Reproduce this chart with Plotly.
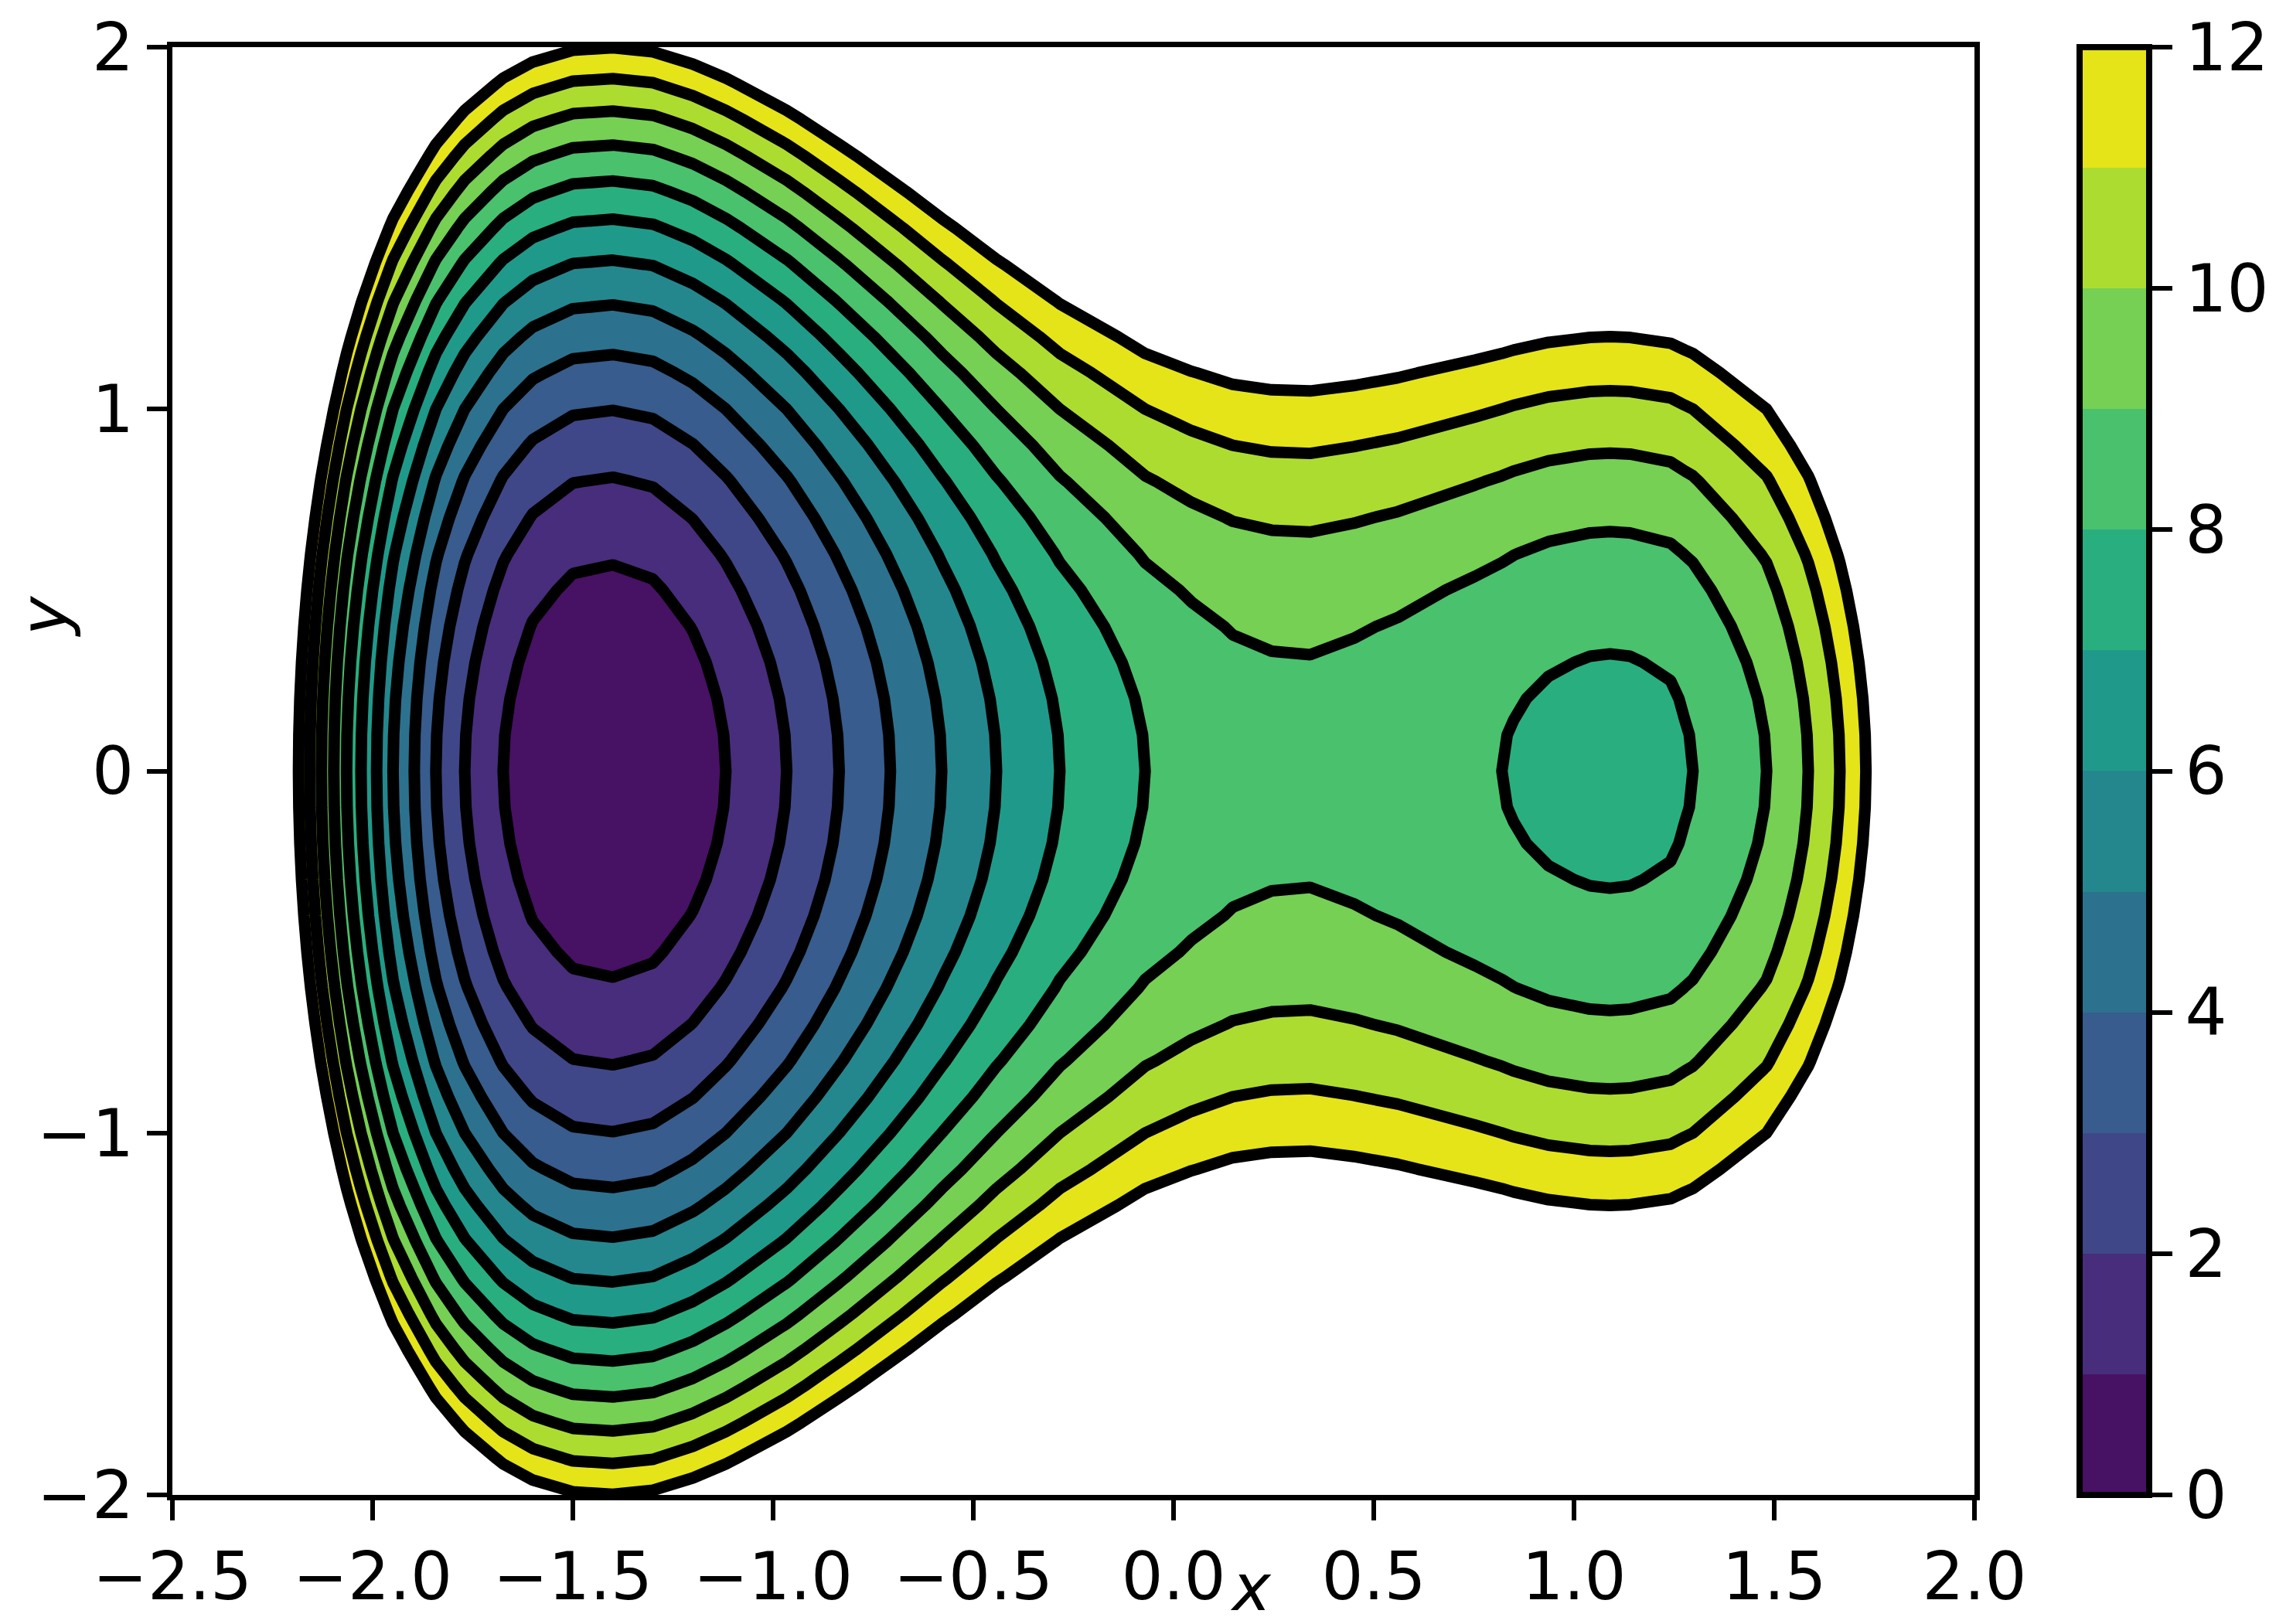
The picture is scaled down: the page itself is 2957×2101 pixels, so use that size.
import plotly.graph_objects as go

# Potential profile along y = 0 (x position -> value)
x_nodes = [-2.5, -2.185, -2.157, -2.128, -2.097, -2.065, -2.029, -1.990, -1.949, -1.896,
           -1.842, -1.770, -1.674, -1.6, -1.5, -1.4, -1.3, -1.2, -1.118, -0.966,
           -0.835, -0.707, -0.579, -0.442, -0.284, -0.071, 0.045, 0.148, 0.245, 0.341,
           0.45, 0.56, 0.753, 0.82, 0.849, 0.936, 1.04, 1.09, 1.14, 1.241,
           1.277, 1.297, 1.481, 1.585, 1.664, 1.729, 1.85, 2.0]
f_profile = [26.0, 12.0, 11.0, 10.0, 9.0, 8.0, 7.0, 6.0, 5.0, 4.0,
             3.0, 2.0, 1.0, 0.48, 0.10, 0.02, 0.15, 0.55, 1.0, 2.0,
             3.0, 4.0, 5.0, 6.0, 7.0, 8.0, 8.34, 8.57, 8.665, 8.685,
             8.59, 8.455, 8.125, 8.0, 7.934, 7.788, 7.694, 7.68, 7.694, 7.805,
             7.934, 8.0, 9.0, 10.0, 11.0, 12.0, 14.2, 18.0]

# Rise of the potential across y (read along the x = -1.4 column)
y_nodes = [-2.0, -1.9, -1.8, -1.7, -1.6, -1.5, -1.4, -1.3, -1.2, -1.1, -1.0,
           -0.9, -0.8, -0.7, -0.6, -0.5, -0.4, -0.3, -0.2, -0.1, 0.0,
           0.1, 0.2, 0.3, 0.4, 0.5, 0.6, 0.7, 0.8, 0.9, 1.0,
           1.1, 1.2, 1.3, 1.4, 1.5, 1.6, 1.7, 1.8, 1.9, 2.0]
g_profile = [12.0, 10.83, 9.72, 8.67, 7.68, 6.75, 5.88, 5.07, 4.32, 3.63, 3.0,
             2.43, 1.92, 1.47, 1.08, 0.75, 0.48, 0.27, 0.12, 0.03, 0.0,
             0.03, 0.12, 0.27, 0.48, 0.75, 1.08, 1.47, 1.92, 2.43, 3.0,
             3.63, 4.32, 5.07, 5.88, 6.75, 7.68, 8.67, 9.72, 10.83, 12.0]

x_ticks = [-2.5, -2.0, -1.5, -1.0, -0.5, 0.0, 0.5, 1.0, 1.5, 2.0]
x_ticktext = ["\u22122.5", "\u22122.0", "\u22121.5", "\u22121.0", "\u22120.5", "0.0", "0.5", "1.0", "1.5", "2.0"]
y_ticks = [-2, -1, 0, 1, 2]
y_ticktext = ["\u22122", "\u22121", "0", "1", "2"]
levels = [0, 1, 2, 3, 4, 5, 6, 7, 8, 9, 10, 11, 12]
cb_ticks = [0, 2, 4, 6, 8, 10, 12]

band_colors = ["#471164", "#472d7b", "#3f4788", "#375c8d", "#2c728e", "#24878e",
               "#1f9a8a", "#29af7f", "#4ac16d", "#75d054", "#addc30", "#e5e419"]
n_bands = len(band_colors)

# contour fill: band above level L is coloured at position L/12; above the last level -> white
fill_scale = [[k / n_bands, c] for k, c in enumerate(band_colors)] + [[1.0, "#ffffff"]]
# stepped scale for the colour bar
bar_scale = []
for k, c in enumerate(band_colors):
    bar_scale.append([k / n_bands, c])
    bar_scale.append([(k + 1) / n_bands, c])

z = [[fv + gv for fv in f_profile] for gv in g_profile]

FONT = "DejaVu Sans"
FS = 85

fig = go.Figure()
fig.add_trace(go.Contour(
    x=x_nodes, y=y_nodes, z=z,
    autocontour=False,
    contours=dict(start=levels[1], end=levels[-1], size=1, coloring="fill", showlines=True),
    line=dict(color="black", width=15, smoothing=0),
    colorscale=fill_scale,
    showscale=False,
    hoverinfo="skip",
))

# colour bar carrier (point lies outside the visible axes)
fig.add_trace(go.Scatter(
    x=[-10], y=[-10], mode="markers", hoverinfo="skip", showlegend=False,
    marker=dict(size=1, color=[levels[0]], cmin=levels[0], cmax=levels[-1],
                colorscale=bar_scale, showscale=True,
                colorbar=dict(
                    x=1.0585, xanchor="left", xref="paper", xpad=0,
                    y=0.5, yanchor="middle", len=1.0, lenmode="fraction", ypad=0,
                    thickness=90, outlinewidth=8, outlinecolor="black",
                    tickmode="array", tickvals=cb_ticks, ticktext=[str(v) for v in cb_ticks],
                    ticks="outside", ticklen=26, tickwidth=6, tickcolor="black",
                    tickfont=dict(family=FONT, size=FS, color="black"),
                )),
))

fig.update_layout(
    width=2957, height=2101,
    margin=dict(l=215, r=411, t=53, b=175, autoexpand=False),
    paper_bgcolor="white", plot_bgcolor="white",
    font=dict(family=FONT, size=FS, color="black"),
    showlegend=False,
    xaxis=dict(range=[-2.5, 2.0], tickmode="array", tickvals=x_ticks, ticktext=x_ticktext,
               ticks="outside", ticklen=26, tickwidth=6, tickcolor="black",
               showline=True, linewidth=7, linecolor="black", mirror=True,
               showgrid=False, zeroline=False,
               tickfont=dict(family=FONT, size=FS, color="black")),
    yaxis=dict(range=[-2.0, 2.0], tickmode="array", tickvals=y_ticks, ticktext=y_ticktext,
               ticks="outside", ticklen=26, tickwidth=6, tickcolor="black",
               showline=True, linewidth=7, linecolor="black", mirror=True,
               showgrid=False, zeroline=False,
               tickfont=dict(family=FONT, size=FS, color="black")),
    annotations=[
        dict(text="<i>x</i>", xref="paper", yref="paper", x=0.5985, y=-0.0641,
             xanchor="center", yanchor="middle", showarrow=False, borderpad=0,
             font=dict(family=FONT, size=84, color="black")),
        dict(text="<i>y</i>", xref="paper", yref="paper", x=-0.0717, y=0.607,
             xanchor="center", yanchor="middle", showarrow=False, textangle=-90,
             font=dict(family=FONT, size=FS, color="black")),
    ],
)

fig.write_html("out.html")
